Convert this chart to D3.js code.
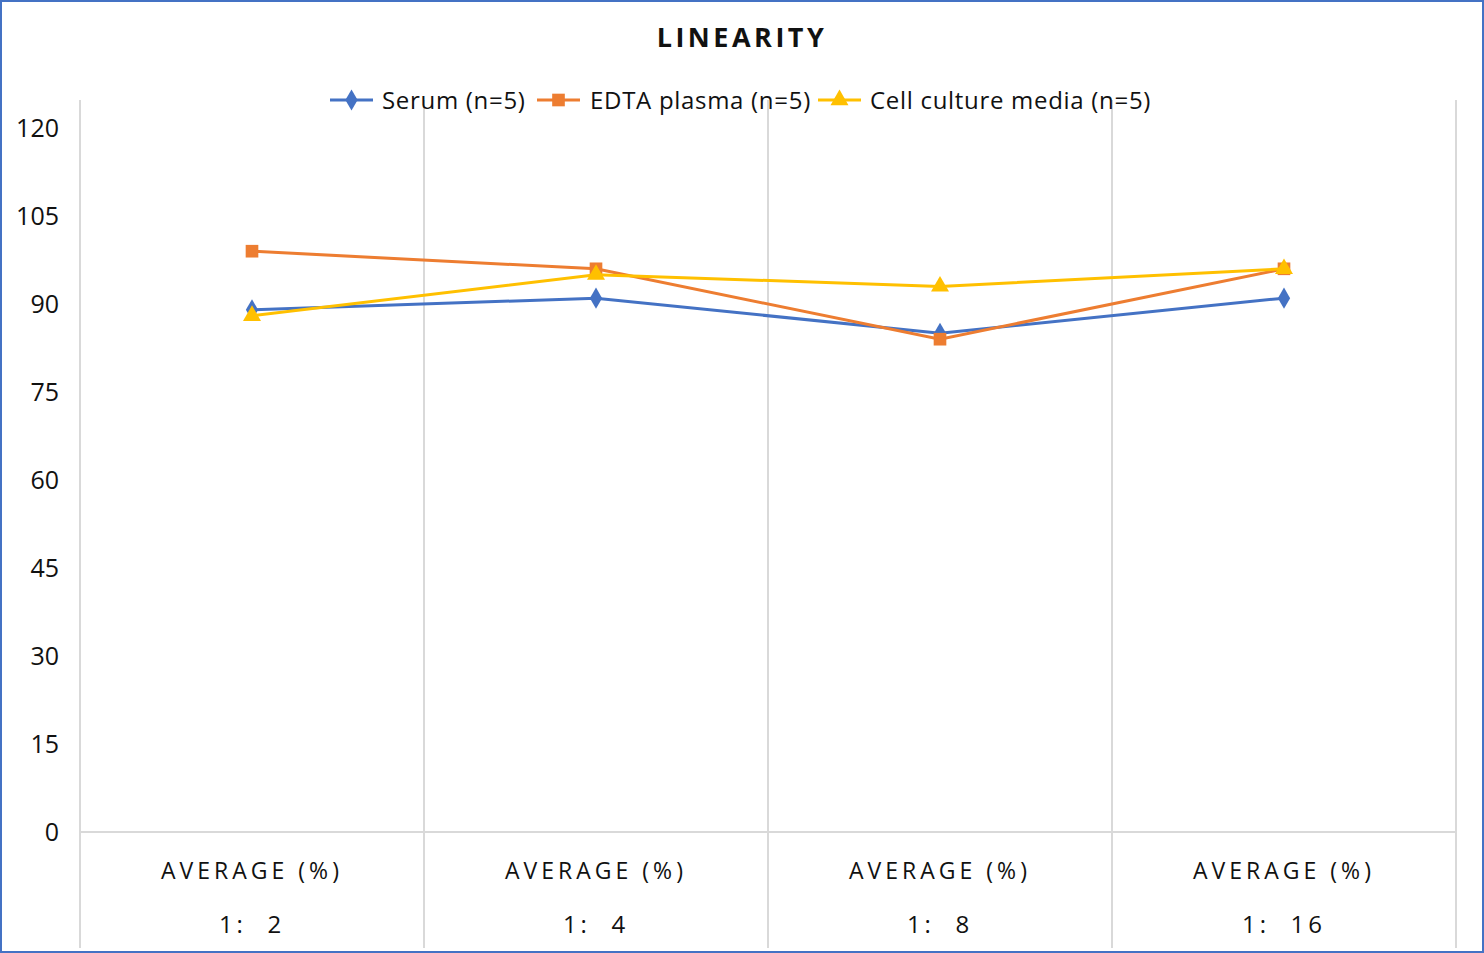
<!DOCTYPE html>
<html>
<head>
<meta charset="utf-8">
<script src="https://cdn.jsdelivr.net/npm/d3@7"></script>
<style>
  body { margin: 0; background: #fff; }
  svg { display: block; font-family: "Open Sans", sans-serif; }
</style>
</head>
<body>
<div id="chart"></div>
<script>
const width = 1484;
const height = 953;
const margin = {top: 128, right: 28, bottom: 121, left: 80};

// ------- data ---------//
const categories = ["1: 2", "1: 4", "1: 8", "1: 16"];
const groupLabel = "AVERAGE (%)";
const yTicks = [0, 15, 30, 45, 60, 75, 90, 105, 120];
const seriesNames = ["Serum (n=5)", "EDTA plasma (n=5)", "Cell culture media (n=5)"];
const serum = [89, 91, 85, 91];
const edta = [99, 96, 84, 96];
const cellMedia = [88, 95, 93, 96];

const series = [
  {name: seriesNames[0], values: serum, color: "#4472C4", shape: d3.symbolDiamond, size: 130},
  {name: seriesNames[1], values: edta, color: "#ED7D31", shape: d3.symbolSquare, size: 160},
  {name: seriesNames[2], values: cellMedia, color: "#FFC000", shape: d3.symbolTriangle, size: 140}
];

// ------- scale ---------//
const xScale = d3.scaleBand()
  .domain(categories)
  .range([margin.left, width - margin.right]);

const yScale = d3.scaleLinear()
  .domain([0, 120])
  .range([height - margin.bottom, margin.top]);

const svg = d3.select("#chart")
  .append("svg")
  .attr("width", width)
  .attr("height", height);

// outer frame
svg.append("rect")
  .attr("x", 1).attr("y", 1)
  .attr("width", width - 2).attr("height", height - 2)
  .attr("fill", "#fff")
  .attr("stroke", "#4472C4")
  .attr("stroke-width", 2);

// title
svg.append("text")
  .attr("x", 742).attr("y", 47)
  .attr("text-anchor", "middle")
  .style("font-size", "27px")
  .style("font-weight", "bold")
  .style("letter-spacing", "3.5px")
  .attr("fill", "#111")
  .text("LINEARITY");

// --------- grid --------//
const edges = categories.map(c => xScale(c)).concat([xScale.range()[1]]);
svg.append("g").selectAll("line")
  .data(edges)
  .join("line")
  .attr("x1", d => d).attr("x2", d => d)
  .attr("y1", 100).attr("y2", height - 5)
  .attr("stroke", "#d9d9d9")
  .attr("stroke-width", 2);

svg.append("line")
  .attr("x1", margin.left).attr("x2", width - margin.right)
  .attr("y1", yScale(0)).attr("y2", yScale(0))
  .attr("stroke", "#d9d9d9")
  .attr("stroke-width", 2);

// --------- axis --------//
const yAxis = d3.axisLeft(yScale).tickValues(yTicks).tickSize(0).tickPadding(21);
const yg = svg.append("g")
  .attr("transform", `translate(${margin.left},0)`)
  .call(yAxis);
yg.select(".domain").remove();
yg.selectAll("text")
  .style("font-size", "25px")
  .style("font-family", "'Open Sans', sans-serif")
  .attr("fill", "#111");

const xg = svg.append("g");
xg.selectAll("text.grp")
  .data(categories)
  .join("text")
  .attr("class", "grp")
  .attr("x", d => xScale(d) + xScale.bandwidth() / 2)
  .attr("y", 879)
  .attr("text-anchor", "middle")
  .style("font-size", "23px")
  .style("letter-spacing", "4px")
  .attr("fill", "#111")
  .text(groupLabel);

xg.selectAll("text.cat")
  .data(categories)
  .join("text")
  .attr("class", "cat")
  .attr("x", d => xScale(d) + xScale.bandwidth() / 2)
  .attr("y", 933)
  .attr("text-anchor", "middle")
  .style("font-size", "24px")
  .style("letter-spacing", "4px")
  .style("white-space", "pre")
  .attr("fill", "#111")
  .text(d => d.replace(" ", "  "));

// ------- draw --------//
const line = d3.line()
  .x((d, i) => xScale(categories[i]) + xScale.bandwidth() / 2)
  .y(d => yScale(d));

const chart = svg.append("g");
series.forEach(s => {
  chart.append("path")
    .attr("d", line(s.values))
    .attr("fill", "none")
    .attr("stroke", s.color)
    .attr("stroke-width", 3);
  chart.selectAll(null)
    .data(s.values)
    .join("path")
    .attr("transform", (d, i) => `translate(${xScale(categories[i]) + xScale.bandwidth() / 2},${yScale(d)})`)
    .attr("d", d3.symbol().type(s.shape).size(s.size))
    .attr("fill", s.color);
});

// legend
const legendPos = [{x: 330, tx: 382}, {x: 537, tx: 590}, {x: 818, tx: 870}];
const legend = svg.append("g");
series.forEach((s, i) => {
  const p = legendPos[i];
  legend.append("line")
    .attr("x1", p.x).attr("x2", p.x + 43)
    .attr("y1", 100).attr("y2", 100)
    .attr("stroke", s.color).attr("stroke-width", 3);
  legend.append("path")
    .attr("transform", `translate(${p.x + 21.5},100)`)
    .attr("d", d3.symbol().type(s.shape).size(s.size))
    .attr("fill", s.color);
  legend.append("text")
    .attr("x", p.tx).attr("y", 109)
    .style("font-size", "24px")
    .style("letter-spacing", "0.7px")
    .attr("fill", "#111")
    .text(s.name);
});
</script>
</body>
</html>
